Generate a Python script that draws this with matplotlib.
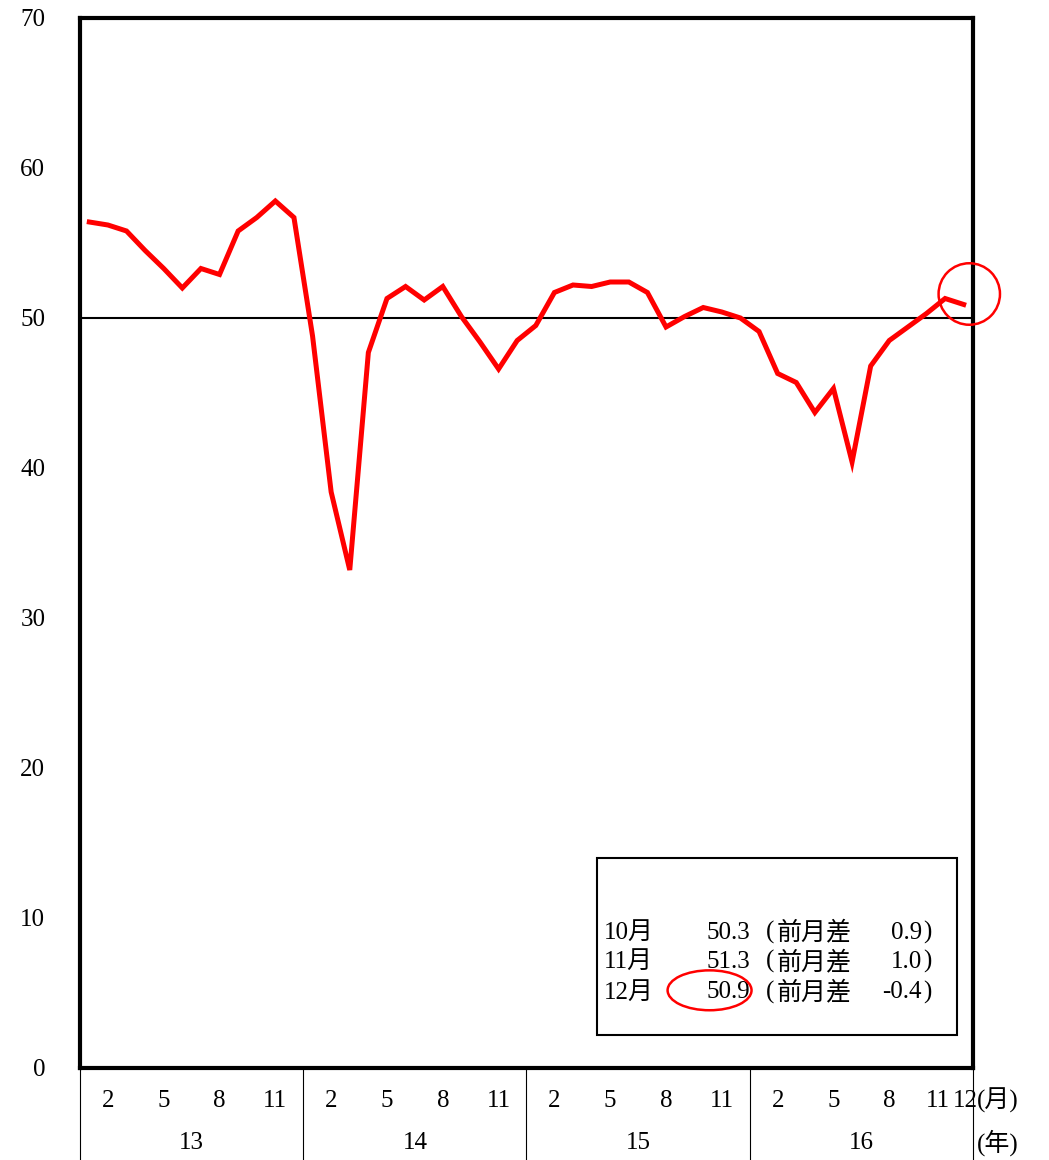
import matplotlib
matplotlib.use("Agg")
import matplotlib.pyplot as plt
from matplotlib.patches import Ellipse, Rectangle
import matplotlib.transforms as mtransforms

plt.rcParams['font.family'] = ['Liberation Serif', 'Noto Sans CJK JP', 'DejaVu Sans']

# 2013/1 - 2016/12 monthly values
values = [
    56.4, 56.2, 55.8, 54.5, 53.3, 52.0, 53.3, 52.9, 55.8, 56.7, 57.8, 56.7,   # 13
    48.8, 38.4, 33.2, 47.7, 51.3, 52.1, 51.2, 52.1, 50.1, 48.4, 46.6, 48.5,   # 14
    49.5, 51.7, 52.2, 52.1, 52.4, 52.4, 51.7, 49.4, 50.1, 50.7, 50.4, 50.0,   # 15
    49.1, 46.3, 45.7, 43.7, 45.3, 40.4, 46.8, 48.5, 49.4, 50.3, 51.3, 50.9,   # 16
]
years = ["13", "14", "15", "16"]
month_ticks = ["2", "5", "8", "11"]
y_ticks = [0, 10, 20, 30, 40, 50, 60, 70]
box_months = ["10月", "11月", "12月"]
box_values = ["50.3", "51.3", "50.9"]
box_diffs = ["0.9", "1.0", "-0.4"]

x = list(range(1, len(values) + 1))

fig = plt.figure(figsize=(10.49, 11.6), dpi=100)
ax = fig.add_axes([80 / 1049, 92 / 1160, 893 / 1049, 1050 / 1160])

ax.axhline(50, color="black", lw=1.5, zorder=2)
ax.plot(x, values, color="#ff0000", lw=3.6, solid_joinstyle="miter", zorder=3)

ax.set_xlim(0.5, len(values) + 0.5)
ax.set_ylim(0, 70)
ax.set_yticks(y_ticks)
ax.set_yticklabels([str(t) for t in y_ticks], fontsize=18)
ax.tick_params(axis="y", length=0, pad=25)
ax.set_xticks([])
for s in ax.spines.values():
    s.set_linewidth(3)
    s.set_color("black")

# month / year labels under the axis
trans = mtransforms.blended_transform_factory(ax.transData, ax.transAxes)
for i, yr in enumerate(years):
    for m in month_ticks:
        pos = i * 12 + int(m)
        if i == len(years) - 1 and m == "11":
            pos = pos - 0.4
        ax.text(pos, -0.031, m, transform=trans, ha="center", va="center", fontsize=18)
    ax.text(i * 12 + 6.5, -0.071, yr, transform=trans, ha="center", va="center", fontsize=18)
for i in range(len(years) + 1):
    xp = i * 12 + 0.5
    ax.plot([xp, xp], [0, -0.09], transform=trans, color="black", lw=0.8, clip_on=False)
ax.text(len(values) + 0.1, -0.031, "12", transform=trans, ha="center", va="center", fontsize=18)
ax.text(len(values) + 0.7, -0.031, "(月)", transform=trans, ha="left", va="center", fontsize=18)
ax.text(len(values) + 0.7, -0.071, "(年)", transform=trans, ha="left", va="center", fontsize=18)

# red circle on the latest point
ax.add_patch(Ellipse((48.3, 51.6), 3.3, 4.1, fill=False, edgecolor="#ff0000",
                     lw=1.8, clip_on=False, zorder=4))

# info box
ax.add_patch(Rectangle((0.579, 0.031), 0.403, 0.169, transform=ax.transAxes,
                       fill=False, edgecolor="black", lw=1.5, zorder=4))
rows_y = [0.129, 0.101, 0.072]
for yy, mo, v, d in zip(rows_y, box_months, box_values, box_diffs):
    ax.text(0.587, yy, mo, transform=ax.transAxes, ha="left", va="center", fontsize=18)
    ax.text(0.750, yy, v, transform=ax.transAxes, ha="right", va="center", fontsize=18)
    ax.text(0.768, yy, "(", transform=ax.transAxes, ha="left", va="center", fontsize=18)
    ax.text(0.780, yy, "前月差", transform=ax.transAxes, ha="left", va="center", fontsize=18)
    ax.text(0.943, yy, d, transform=ax.transAxes, ha="right", va="center", fontsize=18)
    ax.text(0.944, yy, ")", transform=ax.transAxes, ha="left", va="center", fontsize=18)
ax.add_patch(Ellipse((0.705, 0.074), 0.094, 0.038, transform=ax.transAxes, fill=False,
                     edgecolor="#ff0000", lw=1.8, zorder=5))

fig.savefig("out.png", dpi=100, facecolor="white")
